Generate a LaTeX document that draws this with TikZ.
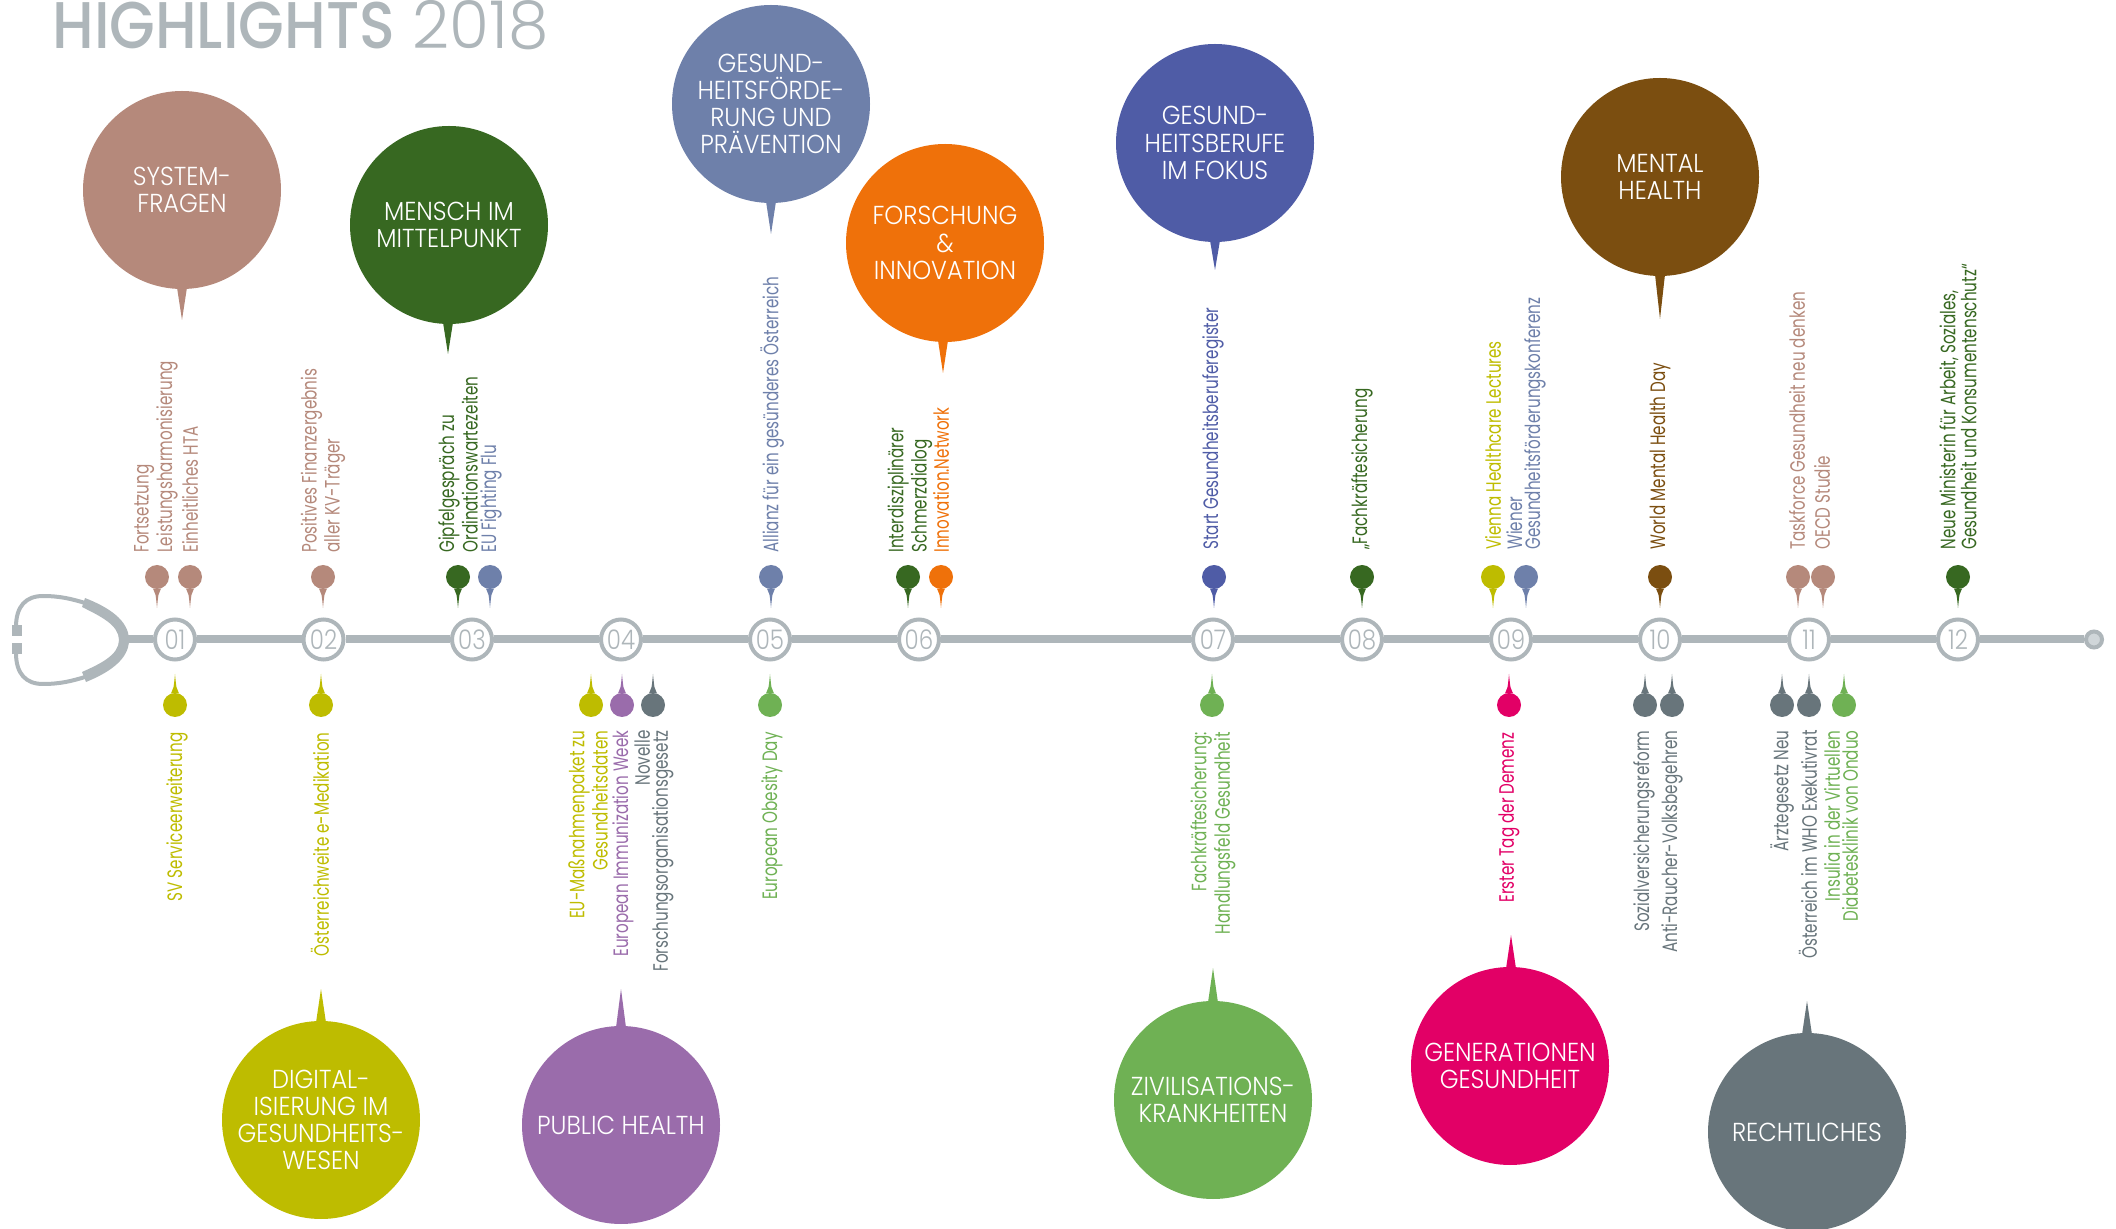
\documentclass[tikz,border=0pt]{standalone}
\usepackage{fontspec}
\newfontfamily\labf[FakeStretch=0.73]{Poppins}
\newfontfamily\bubf[FakeStretch=0.925]{Poppins Light}
\newfontfamily\numf[FakeStretch=0.85]{Poppins Light}
\newfontfamily\titb[FakeStretch=0.895]{Poppins Medium}
\newfontfamily\titl[FakeStretch=0.98]{Poppins Light}
\definecolor{rose}{HTML}{B5897B}
\definecolor{dgreen}{HTML}{376821}
\definecolor{sblue}{HTML}{6E80AA}
\definecolor{orng}{HTML}{EF710A}
\definecolor{indi}{HTML}{4F5CA6}
\definecolor{brwn}{HTML}{7B4E10}
\definecolor{yell}{HTML}{BEBC00}
\definecolor{purp}{HTML}{9A6CAB}
\definecolor{lgreen}{HTML}{6FB154}
\definecolor{magn}{HTML}{E20066}
\definecolor{slate}{HTML}{68757B}
\definecolor{gry}{HTML}{AEB6BA}
\definecolor{endfill}{HTML}{D0D6D9}
\tikzset{
  bubble/.style={circle,inner sep=0pt,minimum size=99pt,text=white,align=center,font=\bubf\fontsize{13}{13.6}\selectfont},
  pinhead/.style={circle,inner sep=0pt,minimum size=12pt},
  numnode/.style={circle,draw=gry,line width=2pt,fill=white,inner sep=0pt,minimum size=20pt,text=gry,font=\numf\fontsize{13.5}{13.5}\selectfont},
  uplab/.style={rotate=90,anchor=west,align=left,inner sep=0pt,font=\labf\fontsize{10.4}{9}\selectfont},
  lowlab/.style={rotate=90,anchor=east,align=right,inner sep=0pt,font=\labf\fontsize{10.4}{9}\selectfont},
  axis/.style={draw=gry,line width=4pt}
}
% upper pin: name,x,colour
\newcommand{\pinU}[3]{\node[pinhead,fill=#3] (#1) at (#2,577) {};
 \coordinate (#1t) at (#2,608);
 \fill[#3] ([xshift=-2pt,yshift=.4pt]#1.south) .. controls ([xshift=-.7pt,yshift=-2pt]#1.south) .. (#1t) .. controls ([xshift=.7pt,yshift=-2pt]#1.south) .. ([xshift=2pt,yshift=.4pt]#1.south) -- cycle;}
\newcommand{\pinD}[3]{\node[pinhead,fill=#3] (#1) at (#2,705) {};
 \coordinate (#1t) at (#2,674);
 \fill[#3] ([xshift=-2pt,yshift=-.4pt]#1.north) .. controls ([xshift=-.7pt,yshift=2pt]#1.north) .. (#1t) .. controls ([xshift=.7pt,yshift=2pt]#1.north) .. ([xshift=2pt,yshift=-.4pt]#1.north) -- cycle;}
% bubble: name,x,y,tipx,tipy,colour,text
\newcommand{\bubU}[7]{\node[bubble,fill=#6] (#1) at (#2,#3) {#7};
 \coordinate (#1t) at (#4,#5);
 \fill[#6] ([xshift=-2.5pt,yshift=1pt]#1.south -| #1t) -- (#1t) -- ([xshift=2.5pt,yshift=1pt]#1.south -| #1t) -- cycle;}
\newcommand{\bubD}[7]{\node[bubble,fill=#6] (#1) at (#2,#3) {#7};
 \coordinate (#1t) at (#4,#5);
 \fill[#6] ([xshift=-2.5pt,yshift=-1pt]#1.north -| #1t) -- (#1t) -- ([xshift=2.5pt,yshift=-1pt]#1.north -| #1t) -- cycle;}
\begin{document}
\begin{tikzpicture}[x=0.5pt,y=-0.5pt]
\useasboundingbox (0,0) rectangle (2116,1229);
% title
\node[anchor=base west,inner sep=0pt,text=gry,font=\titb\fontsize{33}{33}\selectfont] (titleA) at (52,49) {HIGHLIGHTS};
\node[anchor=base west,inner sep=0pt,text=gry,font=\titl\fontsize{33}{33}\selectfont] (titleB) at (412,49) {2018};
% stethoscope
\fill[gry] (85,598) .. controls (108,607) and (129,620) .. (129,640) .. controls (129,660) and (108,673) .. (86,682) -- (82,672) .. controls (100,664) and (119,655) .. (119,640) .. controls (119,625) and (100,616) .. (82,607) -- cycle;
\draw[gry,line width=2pt] (16,627) .. controls (16,606) and (26,596) .. (43,596) .. controls (60,596) and (72,599) .. (85,603);
\draw[gry,line width=2pt] (16,653) .. controls (16,674) and (26,684) .. (43,684) .. controls (60,684) and (72,681) .. (85,677);
\fill[gry] (12,625) rectangle (22,636);
\fill[gry] (12,643) rectangle (22,654);
\coordinate (stetho) at (127,639.5);
% numbered nodes
\foreach \n/\x in {01/175,02/323.5,03/472,04/621,05/770,06/919,07/1213,08/1362,09/1511,10/1660,11/1809,12/1958}
  \node[numnode] (n\n) at (\x,639.5) {\n};
\node[circle,draw=gry,line width=2pt,fill=endfill,inner sep=0pt,minimum size=8pt] (endp) at (2094,639.5) {};
\draw[axis] (stetho) -- (n01);
\draw[axis] (n01) -- (n02);
\draw[axis] (n02) -- (n03);
\draw[axis] (n03) -- (n04);
\draw[axis] (n04) -- (n05);
\draw[axis] (n05) -- (n06);
\draw[axis] (n06) -- (n07);
\draw[axis] (n07) -- (n08);
\draw[axis] (n08) -- (n09);
\draw[axis] (n09) -- (n10);
\draw[axis] (n10) -- (n11);
\draw[axis] (n11) -- (n12);
\draw[axis] (n12) -- (endp);
% bubbles
\bubU{bA}{182}{190}{182}{320}{rose}{SYSTEM-\\FRAGEN}
\bubU{bB}{449}{225}{448}{354}{dgreen}{MENSCH IM\\MITTELPUNKT}
\bubU{bC}{771}{104}{771}{234}{sblue}{GESUND-\\HEITSFÖRDE-\\RUNG UND\\PRÄVENTION}
\bubU{bD}{945}{243}{943}{373}{orng}{FORSCHUNG\\\&\\INNOVATION}
\bubU{bE}{1215}{143}{1215}{270}{indi}{GESUND-\\HEITSBERUFE\\IM FOKUS}
\bubU{bF}{1660}{177}{1660}{319}{brwn}{MENTAL\\HEALTH}
\bubD{bG}{321}{1120}{321}{989}{yell}{DIGITAL-\\ISIERUNG IM\\GESUNDHEITS-\\WESEN}
\bubD{bH}{621}{1125}{621}{989}{purp}{PUBLIC HEALTH}
\bubD{bI}{1213}{1100}{1213}{968}{lgreen}{ZIVILISATIONS-\\KRANKHEITEN}
\bubD{bJ}{1510}{1066}{1511}{935}{magn}{GENERATIONEN\\GESUNDHEIT}
\bubD{bK}{1807}{1132}{1807}{1001}{slate}{RECHTLICHES}
% upper pins
\pinU{pa}{157}{rose}
\pinU{pb}{190}{rose}
\pinU{pc}{323}{rose}
\pinU{pd}{458}{dgreen}
\pinU{pe}{490}{sblue}
\pinU{pf}{771}{sblue}
\pinU{pg}{908}{dgreen}
\pinU{ph}{941}{orng}
\pinU{pi}{1214}{indi}
\pinU{pj}{1362}{dgreen}
\pinU{pk}{1493}{yell}
\pinU{pl}{1526}{sblue}
\pinU{pm}{1660}{brwn}
\pinU{pn}{1798}{rose}
\pinU{po}{1823}{rose}
\pinU{pp}{1958}{dgreen}
% lower pins
\pinD{qa}{175}{yell}
\pinD{qb}{321}{yell}
\pinD{qc}{591}{yell}
\pinD{qd}{622}{purp}
\pinD{qe}{653}{slate}
\pinD{qf}{770}{lgreen}
\pinD{qg}{1212}{lgreen}
\pinD{qh}{1509}{magn}
\pinD{qi}{1645}{slate}
\pinD{qj}{1672}{slate}
\pinD{qk}{1782}{slate}
\pinD{ql}{1809}{slate}
\pinD{qm}{1844}{lgreen}
% upper labels
\node[uplab,text=rose] (la) at (156,553) {Fortsetzung\\Leistungsharmonisierung};
\node[uplab,text=rose] (lb) at (190,553) {Einheitliches HTA};
\node[uplab,text=rose] (lc) at (323,553) {Positives Finanzergebnis\\aller KV-Träger};
\node[uplab,text=dgreen] (ld) at (458,553) {Gipfelgespräch zu\\Ordinationswartezeiten};
\node[uplab,text=sblue] (le) at (491,553) {EU Fighting Flu};
\node[uplab,text=sblue] (lf) at (772,553) {Allianz für ein gesünderes Österreich};
\node[uplab,text=dgreen] (lg) at (910,553) {Interdisziplinärer\\Schmerzdialog};
\node[uplab,text=orng] (lh) at (941,553) {Innovation.Network};
\node[uplab,text=indi] (li) at (1213,550) {Start Gesundheitsberuferegister};
\node[uplab,text=dgreen] (lj) at (1362,550) {„Fachkräftesicherung};
\node[uplab,text=yell] (lk) at (1493,550) {Vienna Healthcare Lectures};
\node[uplab,text=sblue] (ll) at (1526,550) {Wiener\\Gesundheitsförderungskonferenz};
\node[uplab,text=brwn] (lm) at (1660,550) {World Mental Health Day};
\node[uplab,text=rose] (ln) at (1797,550) {Taskforce Gesundheit neu denken};
\node[uplab,text=rose] (lo) at (1822,550) {OECD Studie};
\node[uplab,text=dgreen] (lp) at (1958,550) {Neue Ministerin für Arbeit, Soziales,\\Gesundheit und Konsumentenschutz“};
% lower labels
\node[lowlab,text=yell] (ma) at (177,732) {SV Serviceerweiterung};
\node[lowlab,text=yell] (mb) at (320,732) {Österreichweite e-Medikation};
\node[lowlab,text=yell] (mc) at (588,730) {EU-Maßnahmenpaket zu\\Gesundheitsdaten};
\node[lowlab,text=purp] (md) at (623,730) {European Immunization Week};
\node[lowlab,text=slate] (me) at (654,730) {Novelle\\Forschungsorganisationsgesetz};
\node[lowlab,text=lgreen] (mf) at (772,732) {European Obesity Day};
\node[lowlab,text=lgreen] (mg) at (1213,732) {Fachkräftesicherung:\\Handlungsfeld Gesundheit};
\node[lowlab,text=magn] (mh) at (1509,732) {Erster Tag der Demenz};
\node[lowlab,text=slate] (mi) at (1644,730) {Sozialversicherungsreform};
\node[lowlab,text=slate] (mj) at (1672,730) {Anti-Raucher-Volksbegehren};
\node[lowlab,text=slate] (mk) at (1782,730) {Ärztegesetz Neu};
\node[lowlab,text=slate] (ml) at (1808,730) {Österreich im WHO Exekutivrat};
\node[lowlab,text=lgreen] (mm) at (1841,730) {Insulia in der Virtuellen\\Diabetesklinik von Onduo};
\end{tikzpicture}
\end{document}
